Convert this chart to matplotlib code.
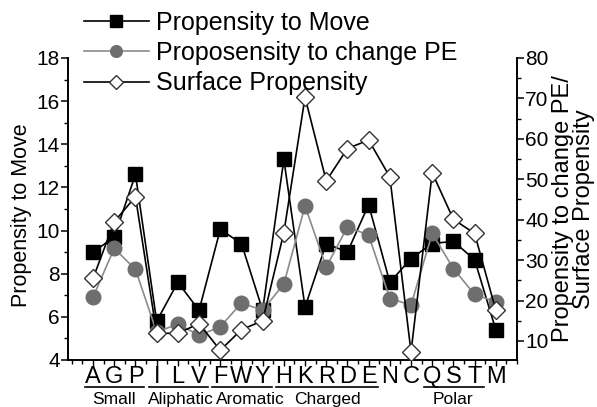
import matplotlib
matplotlib.use('Agg')
import matplotlib.pyplot as plt
import matplotlib.transforms as mtransforms
from matplotlib.ticker import MultipleLocator

plt.rcParams['font.family'] = ['Liberation Sans', 'DejaVu Sans']

residues = ['A', 'G', 'P', 'I', 'L', 'V', 'F', 'W', 'Y', 'H',
            'K', 'R', 'D', 'E', 'N', 'C', 'Q', 'S', 'T', 'M']

# left axis
move = [9.0, 9.7, 12.6, 5.8, 7.6, 6.3, 10.05, 9.4, 6.3, 13.3,
        6.45, 9.4, 9.0, 11.2, 7.6, 8.7, 9.4, 9.5, 8.65, 5.4]
# right axis
change_pe = [20.9, 32.9, 27.7, 12.2, 14.2, 11.4, 13.5, 19.4, 17.6, 24.1,
             43.4, 28.3, 38.2, 36.2, 20.5, 18.9, 36.6, 27.9, 21.5, 19.7]
surface = [25.5, 39.5, 45.7, 11.9, 11.9, 14.3, 7.7, 12.8, 15.0, 36.8,
           70.3, 49.6, 57.6, 59.7, 50.6, 7.3, 51.6, 40.1, 36.6, 17.6]

# group name, first and last residue index, label centre
groups = [('Small', 0, 2, 1.0), ('Aliphatic', 3, 5, 4.15), ('Aromatic', 6, 8, 7.4),
          ('Charged', 9, 13, 11.05), ('Polar', 16, 18, 17.0)]

x = list(range(len(residues)))

fig = plt.figure(figsize=(5.97, 4.07), dpi=100)
ax = fig.add_axes([0.114, 0.1155, 0.752, 0.742])
ax2 = ax.twinx()

grey_line = '#8a8a8a'
grey_dot = '#6e6e6e'

l1, = ax.plot(x, move, '-', color='black', lw=1.2, marker='s', ms=10.5,
              mfc='black', mec='black', label='Propensity to Move', zorder=3)
l2, = ax2.plot(x, change_pe, '-', color=grey_line, lw=1.2, marker='o', ms=10.5,
               mfc=grey_dot, mec=grey_dot, label='Proposensity to change PE', zorder=2)
l3, = ax2.plot(x, surface, '-', color='black', lw=1.2, marker='D', ms=9.5,
               mfc='white', mec='#333333', mew=1.0, label='Surface Propensity', zorder=4)

ax.set_xlim(-1.18, 20.0)
ax.set_ylim(4, 18)
ax2.set_ylim(5.3, 80)

for a in (ax, ax2):
    a.spines['top'].set_visible(False)
    a.spines['left'].set_linewidth(1.2)
    a.spines['right'].set_linewidth(1.2)
    a.spines['bottom'].set_linewidth(1.2)

ax.yaxis.set_major_locator(MultipleLocator(2))
ax.yaxis.set_minor_locator(MultipleLocator(1))
ax2.yaxis.set_major_locator(MultipleLocator(10))
ax2.yaxis.set_minor_locator(MultipleLocator(5))
ax.set_xticks(x)
ax.set_xticklabels(residues)
ax.xaxis.set_minor_locator(MultipleLocator(0.5))

ax.tick_params(axis='y', which='major', direction='out', length=5, width=1.1,
               labelsize=15, pad=1)
ax.tick_params(axis='y', which='minor', direction='out', length=3, width=1.0)
ax2.tick_params(axis='y', which='major', direction='out', length=5, width=1.1,
                labelsize=15, pad=1)
ax2.tick_params(axis='y', which='minor', direction='out', length=3, width=1.0)
ax.tick_params(axis='x', which='major', direction='out', length=4, width=1.0,
               labelsize=17, pad=0)
ax.tick_params(axis='x', which='minor', direction='out', length=3, width=1.0)

ax.set_ylabel('Propensity to Move', fontsize=15.5)
ax.yaxis.set_label_coords(-0.08, 0.48)
ax2.set_ylabel('Propensity to change PE/\nSurface Propensity', fontsize=17,
               linespacing=0.95)
ax2.yaxis.set_label_coords(1.078, 0.5)

trans = mtransforms.blended_transform_factory(ax.transData, ax.transAxes)
for name, i0, i1, xc in groups:
    ax.plot([i0 - 0.38, i1 + 0.42], [-0.089, -0.089], color='black', lw=1.2,
            transform=trans, clip_on=False)
    ax.text(xc, -0.132, name, transform=trans, ha='center',
            va='center', fontsize=12.5)

fig.legend([l1, l2, l3], [l1.get_label(), l2.get_label(), l3.get_label()],
           loc='upper left', bbox_to_anchor=(0.115, 1.01), frameon=False,
           fontsize=18, handlelength=2.6, handletextpad=0.3, labelspacing=0.25,
           borderpad=0.1, markerscale=0.8)

fig.savefig('out.png', dpi=100)
